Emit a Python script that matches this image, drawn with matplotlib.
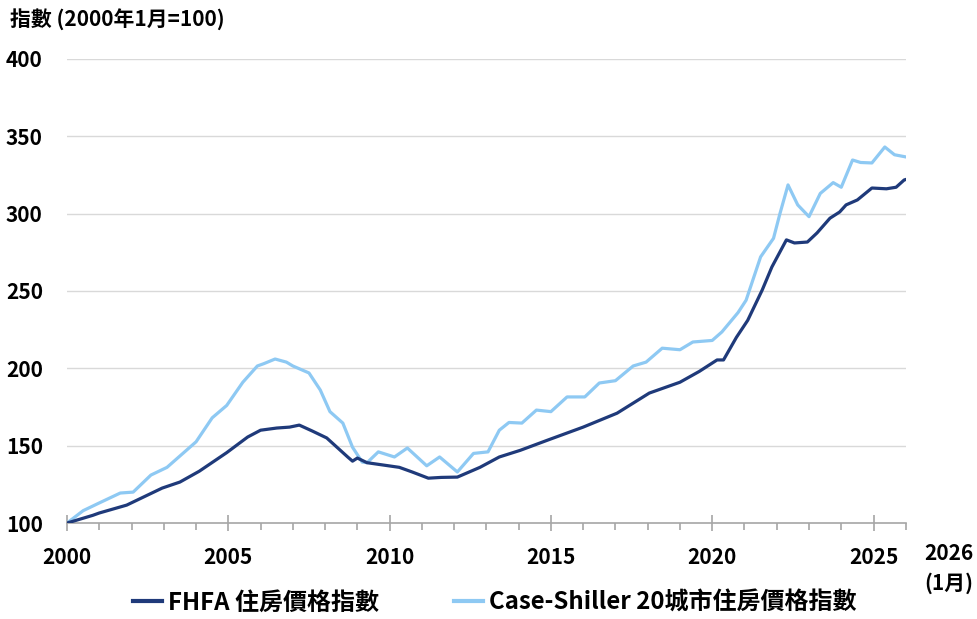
import numpy as np
import matplotlib
matplotlib.use('Agg')
import matplotlib.pyplot as plt
from matplotlib.ticker import MultipleLocator

plt.rcParams['font.family'] = ['Noto Sans CJK TC', 'DejaVu Sans']
plt.rcParams['font.weight'] = 'bold'

# FHFA house price index (Jan 2000 = 100)
fhfa_t = [2000.0, 2000.8, 2001.0, 2001.85, 2002.95, 2003.5, 2004.1, 2004.95, 2005.6, 2006.0,
          2006.5, 2006.9, 2007.2, 2007.6, 2008.05, 2008.7, 2008.85, 2009.0, 2009.3, 2009.8,
          2010.3, 2010.7, 2011.2, 2011.6, 2012.1, 2012.8, 2013.4, 2014.05, 2014.9, 2016.0,
          2017.05, 2018.05, 2019.0, 2019.6, 2020.15, 2020.35, 2020.75, 2021.1, 2021.55, 2021.85,
          2022.3, 2022.55, 2022.95, 2023.25, 2023.65, 2023.95, 2024.15, 2024.5, 2024.95, 2025.4,
          2025.7, 2025.95, 2026.0]
fhfa_v = [100, 105, 106.5, 111.6, 122.6, 126.5, 133.5, 145.5, 155.6, 160,
          161.4, 162, 163.3, 159.5, 155, 142.7, 140, 142, 139, 137.5,
          136, 133, 129, 129.5, 129.7, 136, 142.7, 147, 153.6, 162,
          171, 184, 191, 198, 205.4, 205.4, 220, 231, 250.6, 265.5,
          283, 281, 281.6, 287.5, 297, 301, 305.6, 308.8, 316.5, 316,
          317, 321.7, 322]

# Case-Shiller 20-city index
cs_t = [2000.0, 2000.5, 2001.0, 2001.65, 2002.05, 2002.6, 2003.1, 2003.7, 2004.0, 2004.5,
        2004.95, 2005.45, 2005.9, 2006.1, 2006.45, 2006.8, 2007.0, 2007.5, 2007.85, 2008.15,
        2008.55, 2008.85, 2009.15, 2009.3, 2009.65, 2010.15, 2010.55, 2011.15, 2011.55, 2012.1,
        2012.6, 2013.05, 2013.4, 2013.7, 2014.1, 2014.55, 2015.0, 2015.5, 2016.05, 2016.5,
        2017.0, 2017.55, 2017.95, 2018.45, 2019.0, 2019.4, 2020.0, 2020.3, 2020.8, 2021.05,
        2021.5, 2021.9, 2022.1, 2022.35, 2022.65, 2023.0, 2023.35, 2023.75, 2024.0, 2024.35,
        2024.6, 2024.95, 2025.35, 2025.65, 2026.0]
cs_v = [100, 108, 113, 119.4, 120, 131, 136, 147, 152.5, 168,
        176, 191, 201.5, 203, 206, 204, 201.5, 197, 186, 172,
        164.6, 149, 139.4, 139, 146, 142.7, 148.5, 137, 142.7, 133,
        145, 146, 160, 165, 164.6, 173, 172, 181.5, 181.5, 190.5,
        192, 201.5, 204, 213, 212, 217, 218, 223.5, 236, 244,
        272, 284, 300, 318.5, 305.6, 298, 313, 320, 317, 334.6,
        333, 332.7, 343, 338, 336.6]

x_ticks = [2000, 2005, 2010, 2015, 2020, 2025]
y_ticks = [100, 150, 200, 250, 300, 350, 400]

dark = '#1f3a7a'
light = '#8ec9f3'
axis_gray = '#a6a6a6'

fig = plt.figure(figsize=(9.77, 6.19), dpi=100)
ax = fig.add_axes([0.0686, 0.155, 0.8585, 0.75])

ax.plot(fhfa_t, fhfa_v, color=dark, lw=2.3, label='FHFA 住房價格指數', zorder=3,
        solid_joinstyle='round')
ax.plot(cs_t, cs_v, color=light, lw=2.3, label='Case-Shiller 20城市住房價格指數', zorder=2,
        solid_joinstyle='round')

ax.set_xlim(2000, 2026)
ax.set_ylim(100, 400)
ax.set_yticks(y_ticks)
ax.set_xticks(x_ticks)
ax.xaxis.set_minor_locator(MultipleLocator(1))
for y in y_ticks[1:]:
    ax.axhline(y, color='#d9d9d9', lw=1, zorder=1)

for s in ['top', 'right', 'left']:
    ax.spines[s].set_visible(False)
ax.spines['bottom'].set_color(axis_gray)
ax.spines['bottom'].set_linewidth(1.2)

ax.tick_params(axis='y', length=0, pad=44, labelsize=15)
for lab in ax.get_yticklabels():
    lab.set_horizontalalignment('left')
ax.tick_params(axis='x', which='major', direction='inout', length=11, width=1.2,
               color=axis_gray, pad=12, labelsize=15)
ax.tick_params(axis='x', which='minor', direction='out', length=5, width=1.2, color=axis_gray)

fig.text(0.010, 0.967, '指數 (2000年1月=100)', fontsize=15, weight='bold', va='center', ha='left')
fig.text(0.971, 0.106, '2026', fontsize=15, weight='bold', ha='center', va='center')
fig.text(0.971, 0.058, '(1月)', fontsize=15, weight='bold', ha='center', va='center')

leg = ax.legend(loc='center', bbox_to_anchor=(0.51, -0.172), ncol=2, frameon=False,
                fontsize=17.3, handlelength=1.2, handletextpad=0.25, columnspacing=3.1)
for line in leg.get_lines():
    line.set_linewidth(3)

fig.savefig('out.png', dpi=100)
